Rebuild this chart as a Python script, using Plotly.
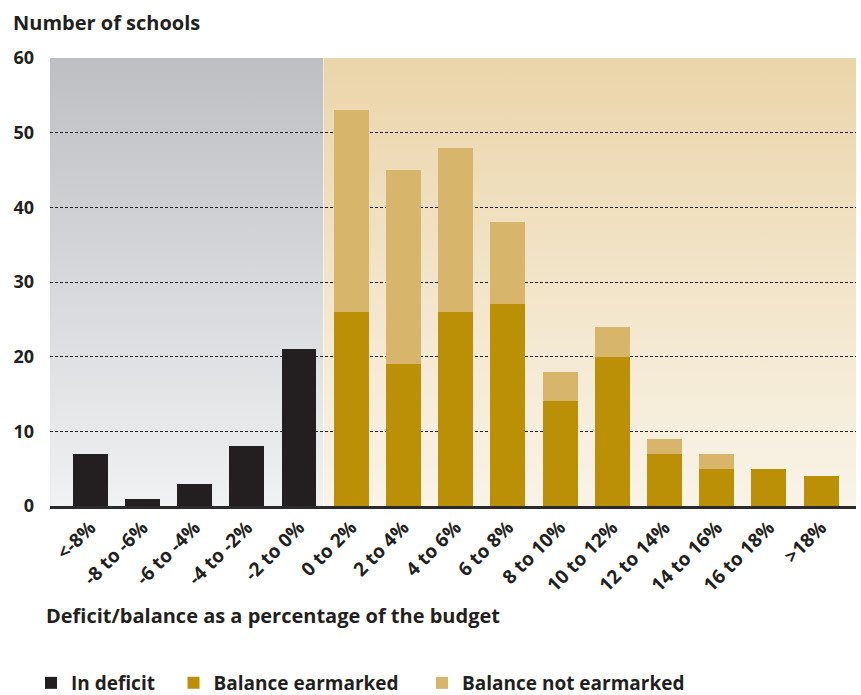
import base64
import plotly.graph_objects as go

categories = ["<-8%", "-8 to -6%", "-6 to -4%", "-4 to -2%", "-2 to 0%",
              "0 to 2%", "2 to 4%", "4 to 6%", "6 to 8%", "8 to 10%",
              "10 to 12%", "12 to 14%", "14 to 16%", "16 to 18%", ">18%"]
in_deficit = [7, 1, 3, 8, 21, None, None, None, None, None, None, None, None, None, None]
earmarked = [None, None, None, None, None, 26, 19, 26, 27, 14, 20, 7, 5, 5, 4]
not_earmarked = [None, None, None, None, None, 27, 26, 22, 11, 4, 4, 2, 2, 0, 0]
y_ticks = [0, 10, 20, 30, 40, 50, 60]

DARK = "#231f20"
FONT = "Open Sans"
xs = list(range(len(categories)))


def grad(top, bottom):
    svg = ('<svg xmlns="http://www.w3.org/2000/svg" width="100" height="100" '
           'viewBox="0 0 100 100" preserveAspectRatio="none"><defs>'
           '<linearGradient id="g" x1="0" y1="0" x2="0" y2="1">'
           f'<stop offset="0" stop-color="{top}"/><stop offset="1" stop-color="{bottom}"/>'
           '</linearGradient></defs><rect width="100" height="100" fill="url(#g)"/></svg>')
    return "data:image/svg+xml;base64," + base64.b64encode(svg.encode()).decode()


fig = go.Figure()
fig.add_trace(go.Bar(x=xs, y=in_deficit, name="In deficit", marker_color=DARK,
                     marker_line_width=0, legend="legend", showlegend=True))
fig.add_trace(go.Bar(x=xs, y=earmarked, name="Balance earmarked", marker_color="#bb8f06",
                     marker_line_width=0, legend="legend2", showlegend=True))
fig.add_trace(go.Bar(x=xs, y=not_earmarked, name="Balance not earmarked", marker_color="#d7b66c",
                     marker_line_width=0, legend="legend3", showlegend=True))

legfont = dict(family=FONT, size=19, color=DARK, weight="bold")


def leg(xpx):
    return dict(orientation="h", xref="container", yref="container", visible=True,
                x=xpx / 861, y=1 - 683 / 695, xanchor="left", yanchor="middle",
                font=legfont, itemclick=False, bgcolor="rgba(0,0,0,0)")


x0, xb, x1 = -0.77, 4.47, 14.67
fig.update_layout(
    width=861, height=695, showlegend=True,
    margin=dict(l=50, r=5, t=58, b=189, autoexpand=False),
    paper_bgcolor="white", plot_bgcolor="rgba(0,0,0,0)",
    barmode="stack", bargap=0.33,
    font=dict(family=FONT, color=DARK, size=16, weight="bold"),
    xaxis=dict(range=[x0, x1], tickvals=xs, ticktext=categories, tickangle=-45,
               showgrid=False, zeroline=False, showline=True, linewidth=3,
               linecolor="#2b2b2b", ticks="", automargin=False,
               tickfont=dict(family=FONT, size=19, color=DARK, weight="bold")),
    yaxis=dict(range=[0, 60], tickvals=y_ticks, showgrid=True, gridcolor=DARK,
               gridwidth=1, griddash="3px,2px", zeroline=False, ticks="",
               ticklabelstandoff=15, automargin=False,
               tickfont=dict(family=FONT, size=18, color=DARK, weight="bold")),
    legend=leg(31),
    legend2=leg(173.5),
    legend3=leg(422),
    images=[
        dict(source=grad("#bebfc2", "#f0f1f3"), xref="x", yref="y", x=x0, y=60,
             sizex=xb - x0, sizey=60, sizing="stretch", xanchor="left", yanchor="top",
             layer="below"),
        dict(source=grad("#ebd5aa", "#f9f4e8"), xref="x", yref="y", x=xb, y=60,
             sizex=x1 - xb, sizey=60, sizing="stretch", xanchor="left", yanchor="top",
             layer="below"),
    ],
    annotations=[
        dict(text="Number of schools", xref="paper", yref="paper", x=-0.048, y=1.080,
             xanchor="left", yanchor="middle", showarrow=False,
             font=dict(family=FONT, size=20, color=DARK, weight="bold")),
        dict(text="Deficit/balance as a percentage of the budget", xref="paper",
             yref="paper", x=-0.008, y=-0.2455, xanchor="left", yanchor="middle",
             showarrow=False,
             font=dict(family=FONT, size=20, color=DARK, weight="bold")),
    ],
)

fig.write_html("out.html")
